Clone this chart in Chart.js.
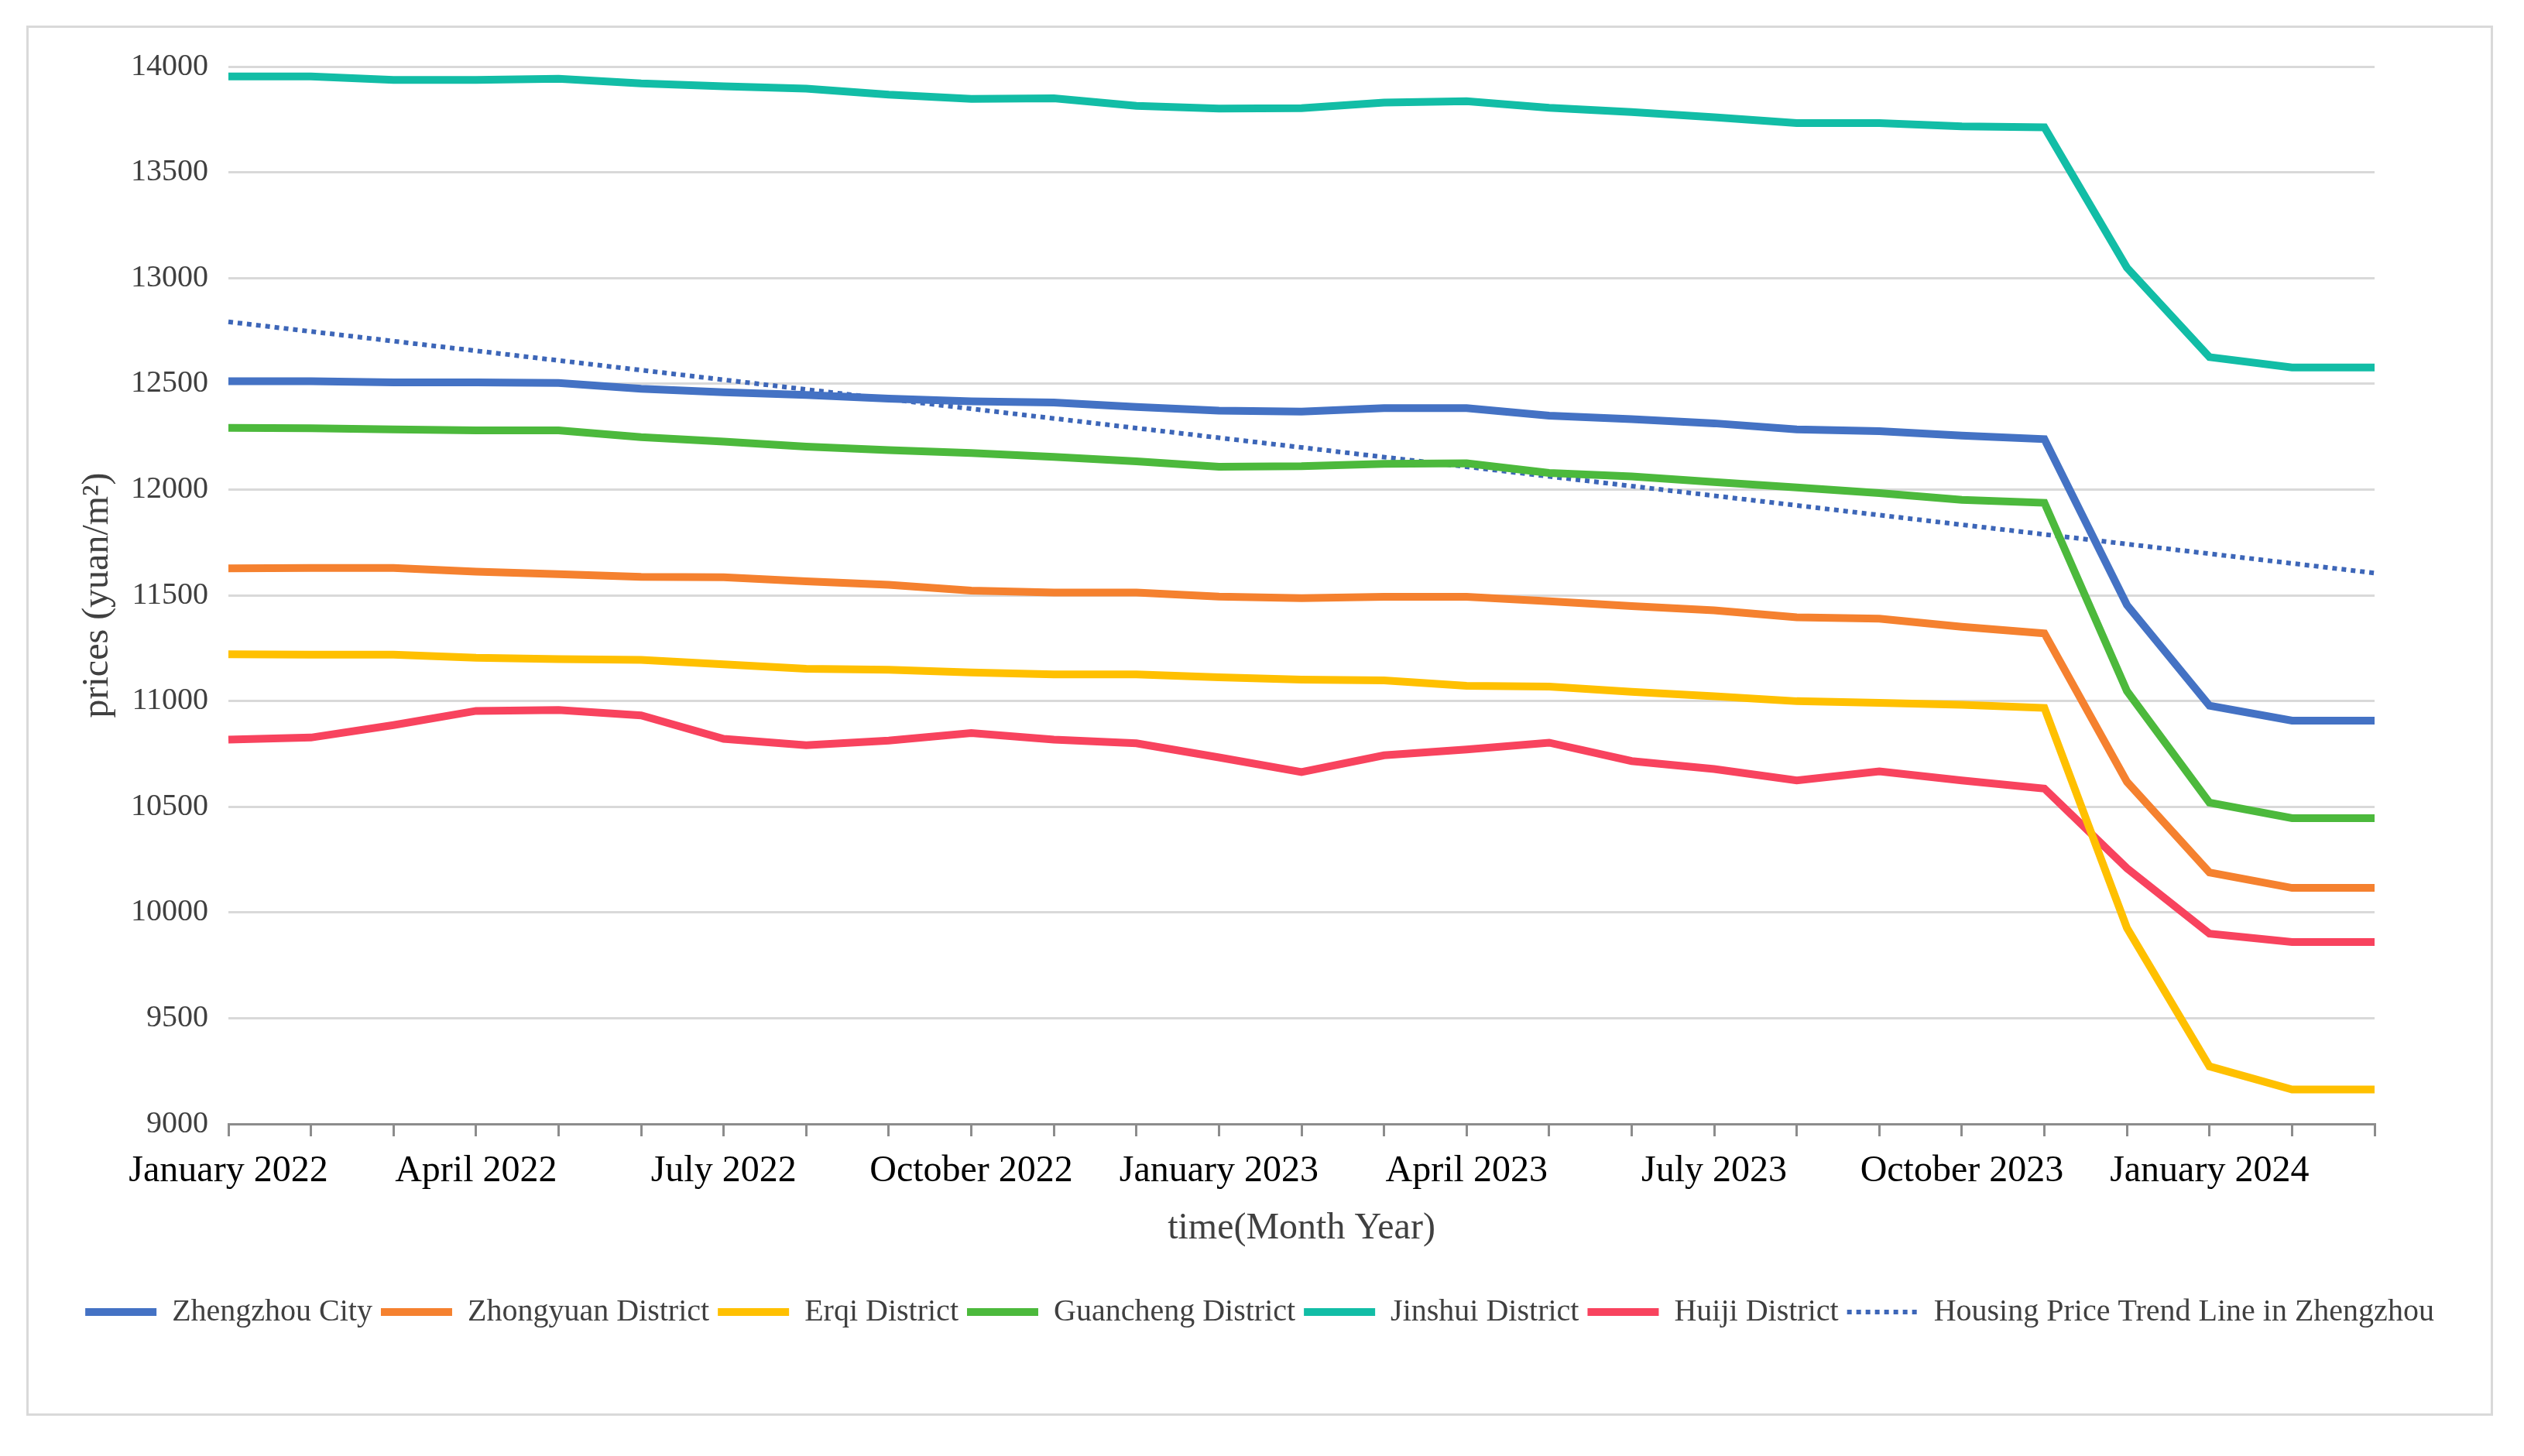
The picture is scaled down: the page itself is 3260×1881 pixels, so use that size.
<!DOCTYPE html>
<html>
<head>
<meta charset="utf-8">
<script src="https://cdn.jsdelivr.net/npm/chart.js@4.4.1/dist/chart.umd.min.js"></script>
<style>
  html, body { margin: 0; padding: 0; background: #fff; }
  #frame {
    position: absolute; left: 34px; top: 33px;
    width: 3180px; height: 1790px;
    border: 3px solid #d9d9d9;
  }
  canvas { display: block; }
</style>
</head>
<body>
<div id="frame"><canvas id="priceChart" width="3180" height="1790"></canvas></div>
<script>
// Months on the x axis
const months = [
  'January 2022', 'February 2022', 'March 2022', 'April 2022', 'May 2022', 'June 2022',
  'July 2022', 'August 2022', 'September 2022', 'October 2022', 'November 2022', 'December 2022',
  'January 2023', 'February 2023', 'March 2023', 'April 2023', 'May 2023', 'June 2023',
  'July 2023', 'August 2023', 'September 2023', 'October 2023', 'November 2023', 'December 2023',
  'January 2024', 'February 2024', 'March 2024'
];
// Only every third month carries a label
const tickLabels = [
  'January 2022', '', '', 'April 2022', '', '', 'July 2022', '', '', 'October 2022', '', '',
  'January 2023', '', '', 'April 2023', '', '', 'July 2023', '', '', 'October 2023', '', '',
  'January 2024', '', ''
];

// Prices (yuan/m2)
const zhengzhou = [12512, 12512, 12507, 12507, 12504, 12476, 12460, 12447, 12430, 12417, 12411, 12390, 12373, 12368, 12385, 12385, 12349, 12333, 12313, 12284, 12276, 12255, 12238, 11454, 10978, 10907, 10907];
const zhongyuan = [11627, 11629, 11629, 11612, 11600, 11587, 11585, 11566, 11549, 11522, 11513, 11513, 11494, 11486, 11493, 11493, 11472, 11449, 11429, 11396, 11389, 11351, 11320, 10618, 10189, 10116, 10116];
const erqi      = [11221, 11219, 11219, 11204, 11198, 11194, 11173, 11152, 11148, 11135, 11126, 11126, 11112, 11101, 11097, 11072, 11068, 11043, 11022, 10999, 10991, 10982, 10967, 9927, 9272, 9163, 9163];
const guancheng = [12292, 12290, 12284, 12280, 12280, 12248, 12227, 12203, 12186, 12173, 12154, 12133, 12108, 12110, 12121, 12124, 12078, 12062, 12035, 12010, 11983, 11951, 11937, 11047, 10519, 10446, 10446];
const jinshui   = [13953, 13953, 13937, 13937, 13942, 13920, 13907, 13896, 13867, 13847, 13850, 13814, 13801, 13803, 13830, 13836, 13805, 13785, 13760, 13733, 13733, 13717, 13713, 13049, 12626, 12577, 12577];
const huiji     = [10817, 10827, 10886, 10953, 10957, 10932, 10821, 10791, 10813, 10848, 10817, 10800, 10733, 10664, 10743, 10771, 10803, 10716, 10678, 10624, 10667, 10624, 10586, 10209, 9900, 9860, 9860];
// Linear trend line: only its two end values, gaps spanned
const trendLine = [12793, null, null, null, null, null, null, null, null, null, null, null, null, null, null, null, null, null, null, null, null, null, null, null, null, null, 11605];

const yMin = 9000;
const yMax = 14000;
const yStep = 500;

Chart.defaults.font.family = "'Liberation Serif', 'Times New Roman', serif";

function series(label, data, color) {
  return {
    label: label,
    data: data,
    borderColor: color,
    backgroundColor: color,
    borderWidth: 10,
    pointRadius: 0,
    pointHoverRadius: 0,
    pointStyle: 'line',
    tension: 0
  };
}

// legend samples: keep the dotted style of the trend line
function legendLabels(chart) {
  const items = Chart.defaults.plugins.legend.labels.generateLabels(chart);
  items.forEach(item => {
    const ds = chart.data.datasets[item.datasetIndex];
    item.lineDash = ds.borderDash || [];
    item.lineWidth = ds.borderWidth;
  });
  return items;
}

function initPriceChart() {
  const ctx = document.getElementById('priceChart').getContext('2d');
  new Chart(ctx, {
    type: 'line',
    data: {
      labels: months,
      datasets: [
        series('Zhengzhou City', zhengzhou, '#4472C4'),
        series('Zhongyuan District', zhongyuan, '#F5812F'),
        series('Erqi District', erqi, '#FFC000'),
        series('Guancheng District', guancheng, '#4CB93C'),
        series('Jinshui District', jinshui, '#12BDA6'),
        series('Huiji District', huiji, '#F8435E'),
        {
          label: 'Housing Price Trend Line in Zhengzhou',
          data: trendLine,
          borderColor: '#3D66B8',
          backgroundColor: '#3D66B8',
          borderWidth: 6,
          borderDash: [6, 6],
          pointRadius: 0,
          pointHoverRadius: 0,
          pointStyle: 'line',
          spanGaps: true,
          tension: 0
        }
      ]
    },
    options: {
      responsive: false,
      animation: false,
      devicePixelRatio: 1,
      layout: { padding: { top: 47, right: 0, left: 0, bottom: 101 } },
      plugins: {
        legend: {
          position: 'bottom',
          labels: {
            usePointStyle: true,
            pointStyleWidth: 92,
            padding: 11,
            color: '#404040',
            font: { size: 40 },
            generateLabels: legendLabels
          }
        },
        tooltip: { enabled: false }
      },
      scales: {
        x: {
          grid: {
            drawOnChartArea: false,
            drawTicks: true,
            tickLength: 16,
            color: '#8c8c8c',
            lineWidth: 3
          },
          border: { color: '#8c8c8c', width: 3 },
          ticks: {
            autoSkip: false,
            maxRotation: 0,
            minRotation: 0,
            padding: 17,
            color: '#000',
            font: { size: 48 },
            callback: (value, index) => tickLabels[index]
          },
          title: {
            display: true,
            text: 'time(Month Year)',
            color: '#404040',
            font: { size: 48 },
            padding: { top: 0, bottom: 48 }
          },
          afterFit: (scale) => { scale.height = 212; }
        },
        y: {
          min: yMin,
          max: yMax,
          grid: { color: '#d9d9d9', lineWidth: 3, drawTicks: false },
          border: { display: false },
          ticks: {
            stepSize: yStep,
            padding: 26,
            color: '#404040',
            font: { size: 40 },
            callback: (value) => String(value)
          },
          title: {
            display: true,
            text: 'prices (yuan/m²)',
            color: '#404040',
            font: { size: 48 },
            padding: { top: 61, bottom: 0 }
          },
          afterFit: (scale) => { scale.width = 258; }
        },
        // empty right-hand gutter, keeps the legend full width
        gutter: {
          type: 'linear',
          position: 'right',
          min: 0,
          max: 1,
          grid: { display: false },
          border: { display: false },
          ticks: { display: false },
          afterFit: (scale) => { scale.width = 150; }
        }
      }
    }
  });
}

document.addEventListener('DOMContentLoaded', () => {
  initPriceChart();
});
</script>
</body>
</html>
